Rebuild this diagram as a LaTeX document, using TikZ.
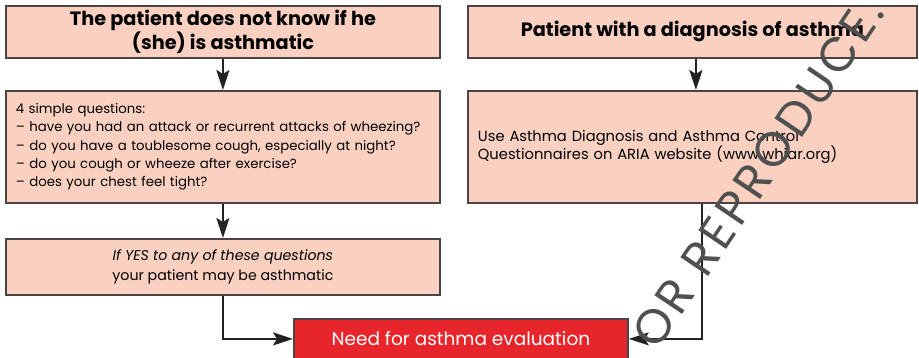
\documentclass[tikz,border=0pt]{standalone}
\usepackage{fontspec}
\setmainfont{Poppins}
\usetikzlibrary{arrows.meta,calc}
\definecolor{boxfill}{HTML}{FAD0C0}
\definecolor{boxline}{HTML}{4A4444}
\definecolor{evalred}{HTML}{E8252B}
\definecolor{wmgray}{HTML}{505050}
\definecolor{arrowblack}{HTML}{222222}
\tikzset{
  box/.style={rectangle, draw=boxline, fill=boxfill, line width=1.8pt,
    anchor=north west, inner sep=0pt, text=black},
  titletext/.style={font=\bfseries\fontsize{19.3}{21}\selectfont, align=center},
  bodytext/.style={font=\fontsize{13.3}{18.3}\selectfont},
  redbox/.style={rectangle, draw=boxline, fill=evalred, line width=1.8pt,
    anchor=north west, inner sep=0pt, text=white,
    font=\fontsize{18.5}{20}\selectfont},
  conn/.style={draw=arrowblack, line width=2pt,
    -{Stealth[length=20pt,width=13pt,inset=4pt]}},
}
\begin{document}
\begin{tikzpicture}[x=1pt,y=-1pt]
\useasboundingbox (0,0) rectangle (919,357);
\begin{scope}
\clip (0,0) rectangle (919,357);
\node[box, titletext, minimum width=434pt, minimum height=52pt] (b1) at (5,5)
  {The patient does not know if he\\(she) is asthmatic};
\node[box, titletext, minimum width=449pt, minimum height=52pt] (b2) at (467,5)
  {Patient with a diagnosis of asthma};
\node[box, bodytext, minimum width=434pt, minimum height=112pt,
  inner xsep=10pt, text width=414pt, align=left] (b3) at (5,90)
  {4 simple questions:\\
   -- have you had an attack or recurrent attacks of wheezing?\\
   -- do you have a toublesome cough, especially at night?\\
   -- do you cough or wheeze after exercise?\\
   -- does your chest feel tight?};
\node[box, font=\fontsize{14.7}{18.3}\selectfont, minimum width=449pt, minimum height=112pt,
  inner xsep=10pt, text width=429pt, align=left] (b4) at (467,90)
  {Use Asthma Diagnosis and Asthma Control\\
   Questionnaires on ARIA website (www.whiar.org)};
\node[box, font=\fontsize{14.2}{20}\selectfont, minimum width=434pt, minimum height=56pt,
  align=center] (b5) at (5,238)
  {\itshape If YES to any of these questions\\your patient may be asthmatic};
\node[redbox, minimum width=334pt, minimum height=40pt] (red) at (293,318)
  {Need for asthma evaluation};
\draw[conn] (b1) -- (b3);
\draw[conn] ([xshift=3.5pt]b2.south) -- ([xshift=3.5pt]b4.north);
\draw[conn] (b3) -- (b5);
\draw[conn] (b5.south) |- (red.west);
\draw[conn] ([xshift=9.5pt]b4.south) |- (red.east);
\node[rotate=56, anchor=base east, text=wmgray, inner sep=0pt,
  font=\addfontfeature{LetterSpace=8}\fontsize{48}{48}\selectfont] (wm) at (886,13) {OR REPRODUCE.};
\end{scope}
\end{tikzpicture}
\end{document}
